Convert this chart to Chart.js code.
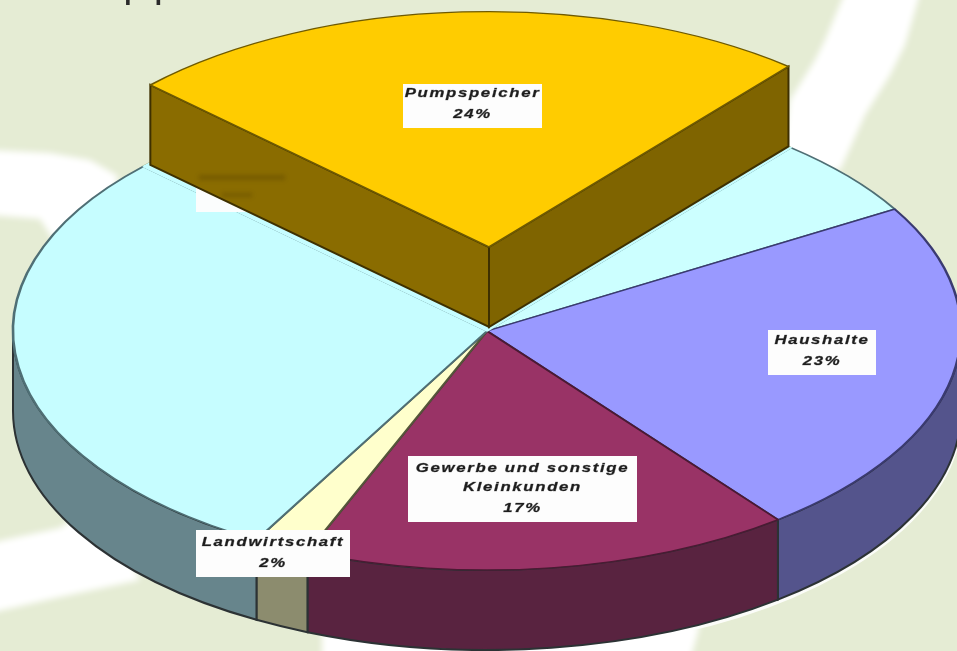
<!DOCTYPE html>
<html>
<head>
<meta charset="utf-8">
<style>
html,body{margin:0;padding:0;background:#E5ECD4;overflow:hidden}
#wrap{width:957px;height:651px;position:relative;overflow:hidden}
canvas{display:block;filter:blur(0.7px)}
</style>
<script src="https://cdn.jsdelivr.net/npm/chart.js@4/dist/chart.umd.js"></script>
</head>
<body>
<div id="wrap"><canvas id="c" width="957" height="651"></canvas></div>
<script>
const categories = ['Pumpspeicher', 'Sonstige', 'Haushalte', 'Gewerbe und sonstige Kleinkunden', 'Landwirtschaft', 'Industrie'];
const shares = [24, 5.4, 23, 16.7, 1.9, 29];
const topColors = ['#FFCC00', '#CCFFFF', '#9999FF', '#993366', '#FFFFCC', '#C6FDFF'];
const edgeColors = ['#6F5A00', '#4F6F75', '#3A3A70', '#4A1A33', '#55553A', '#4F6F75'];
const wallColors = ['#8A6C00', '#66868C', '#54548C', '#592340', '#8C8C6E', '#67858C'];
const titleText = 'Pumpspeicher und Stromverbrauch 2006';
const labelLines = [
  ['Pumpspeicher', '24%'], null,
  ['Haushalte', '23%'],
  ['Gewerbe und sonstige', 'Kleinkunden', '17%'],
  ['Landwirtschaft', '2%'], null
];

// layout of the drawing
const GEO = {cx: 487, cy: 331, rx: 474, ry: 239, depth: 80, lift: [2, -82], pumpScale: 0.985};
const BOXES = [
  {x: 403, y: 84, w: 139, h: 44, lineY: [93, 114]}, null,
  {x: 768, y: 330, w: 108, h: 45, lineY: [340, 361]},
  {x: 408, y: 456, w: 229, h: 66, lineY: [468, 487, 508]},
  {x: 196, y: 530, w: 154, h: 47, lineY: [542, 563]}, null
];
const TEXT_STRETCH = 1.29;

function polygon(ctx, pts, color) {
  ctx.fillStyle = color; ctx.beginPath();
  pts.forEach((p, i) => i ? ctx.lineTo(p[0], p[1]) : ctx.moveTo(p[0], p[1]));
  ctx.closePath(); ctx.fill();
}
function toPie(ctx, arc) {
  ctx.translate(GEO.cx, GEO.cy);
  ctx.scale(1, GEO.ry / GEO.rx);
  ctx.translate(-arc.x, -arc.y);
}

const pie3d = {
  id: 'pie3d',
  beforeDraw(chart) {
    const ctx = chart.ctx;
    ctx.save();
    ctx.fillStyle = '#E5ECD4';
    ctx.fillRect(0, 0, chart.width, chart.height);
    // white swooshes of the slide background
    ctx.filter = 'blur(3px)';
    polygon(ctx, [[846,-10],[825,40],[815,60],[790,100],[780,170],[840,170],[865,115],[890,75],[905,45],[921,-10]], '#FFFFFF');
    polygon(ctx, [[-10,150],[50,153],[90,160],[118,176],[100,250],[60,250],[40,219],[-10,215]], '#FFFFFF');
    polygon(ctx, [[-10,543],[60,528],[100,500],[140,580],[60,597],[-10,613]], '#FFFFFF');
    polygon(ctx, [[322,625],[700,625],[690,660],[322,660]], '#FFFFFF');
    ctx.filter = 'none';
    // title, cropped by the top of the picture
    ctx.fillStyle = '#2A2A2A';
    ctx.font = 'bold 26px "Liberation Sans", Arial, sans-serif';
    ctx.textAlign = 'left'; ctx.textBaseline = 'alphabetic';
    ctx.fillText(titleText, 68, 0);
    ctx.restore();
  },
  beforeDatasetsDraw(chart) {
    const ctx = chart.ctx, arcs = chart.getDatasetMeta(0).data;
    const {cx, cy, rx, ry, depth} = GEO;
    // halo under the wall, then the outer walls of the resting slices
    ctx.save();
    ctx.strokeStyle = 'rgba(255,255,255,0.85)'; ctx.lineWidth = 4;
    ctx.beginPath(); ctx.ellipse(cx, cy + depth + 2, rx, ry, 0, 0.15, 1.3); ctx.stroke();
    arcs.forEach((arc, i) => {
      if (i === 0) return;
      const norm = a => { let v = a % (2 * Math.PI); return v < 0 ? v + 2 * Math.PI : v; };
      let a0 = norm(arc.startAngle), a1 = a0 + (arc.endAngle - arc.startAngle);
      if (a0 >= Math.PI) { if (a1 <= 2 * Math.PI) return; a0 = 2 * Math.PI; }
      const end = Math.min(a1, Math.PI), start = Math.max(a0 % (2 * Math.PI), 0);
      const s = a0 === 2 * Math.PI ? 0 : start;
      const e = a0 === 2 * Math.PI ? a1 - 2 * Math.PI : end;
      ctx.beginPath();
      ctx.ellipse(cx, cy, rx, ry, 0, s, e);
      ctx.ellipse(cx, cy + depth, rx, ry, 0, e, s, true);
      ctx.closePath();
      ctx.fillStyle = wallColors[i]; ctx.fill();
      ctx.strokeStyle = '#2C3234'; ctx.lineWidth = 2; ctx.stroke();
    });
    ctx.restore();
    // pie faces: flatten the library's circular arcs into the tilted ellipse
    ctx.save();
    toPie(ctx, arcs[0]);
  },
  afterDatasetsDraw(chart) {
    const ctx = chart.ctx, arcs = chart.getDatasetMeta(0).data;
    const pump = arcs[0];
    // the place the raised slice left: repaint it in the neighbour's colour
    const ownOptions = pump.options;
    pump.options = Object.assign(Object.create(ownOptions), {backgroundColor: topColors[5], borderColor: topColors[5]});
    pump.draw(ctx);
    pump.options = ownOptions;
    ctx.restore();
    const {cx, cy, rx, ry, depth, lift, pumpScale} = GEO;
    ctx.save();
    // label box of the hidden slice, almost covered by the raised slice
    ctx.fillStyle = '#FBFDFD';
    ctx.fillRect(196, 170, 94, 42);
    // walls of the raised slice
    const vx = cx + lift[0], vy = cy + lift[1] - 2;
    const corner = a => [vx + Math.cos(a) * rx * pumpScale, vy + Math.sin(a) * ry * pumpScale];
    const [lx, ly] = corner(pump.startAngle), [rX, rY] = corner(pump.endAngle);
    const wall = (x, y, color) => {
      ctx.beginPath();
      ctx.moveTo(vx, vy); ctx.lineTo(x, y); ctx.lineTo(x, y + depth); ctx.lineTo(vx, vy + depth); ctx.closePath();
      ctx.fillStyle = color; ctx.fill();
      ctx.strokeStyle = '#3E3000'; ctx.lineWidth = 2; ctx.stroke();
    };
    wall(lx, ly, wallColors[0]);
    wall(rX, rY, '#7F6400');
    // ghost of the hidden label showing through the wall
    ctx.filter = 'blur(2px)';
    ctx.fillStyle = 'rgba(70,50,0,0.28)';
    ctx.fillRect(199, 175, 86, 5);
    ctx.fillRect(222, 193, 30, 4);
    ctx.filter = 'none';
    ctx.restore();
    // raised slice on top
    ctx.save();
    ctx.translate(vx, vy);
    ctx.scale(pumpScale, pumpScale * ry / rx);
    ctx.translate(-pump.x, -pump.y);
    pump.draw(ctx);
    ctx.restore();
    // labels
    ctx.save();
    ctx.textAlign = 'center'; ctx.textBaseline = 'middle';
    ctx.font = 'italic bold 13px "Liberation Sans", Arial, sans-serif';
    ctx.letterSpacing = '1.3px';
    ctx.lineJoin = 'round';
    labelLines.forEach((lines, i) => {
      if (!lines) return;
      const b = BOXES[i];
      ctx.fillStyle = '#FDFDFD';
      ctx.fillRect(b.x, b.y, b.w, b.h);
      ctx.fillStyle = '#1E1E1E';
      ctx.strokeStyle = 'rgba(30,30,30,0.55)';
      ctx.lineWidth = 0.5;
      lines.forEach((t, k) => {
        ctx.save();
        ctx.translate(b.x + b.w / 2, b.lineY[k]);
        ctx.scale(TEXT_STRETCH, 1);
        ctx.fillText(t, 0, 0);
        ctx.strokeText(t, 0, 0);
        ctx.restore();
      });
    });
    ctx.restore();
  }
};

new Chart(document.getElementById('c'), {
  type: 'pie',
  plugins: [pie3d],
  data: {
    labels: categories,
    datasets: [{
      data: shares,
      backgroundColor: topColors,
      borderColor: edgeColors,
      borderWidth: 2.6,
      radius: GEO.rx,
      clip: false
    }]
  },
  options: {
    responsive: false,
    animation: false,
    rotation: -46.5,
    layout: {padding: 0},
    plugins: {legend: {display: false}, tooltip: {enabled: false}, title: {display: false}}
  }
});
</script>
</body>
</html>
